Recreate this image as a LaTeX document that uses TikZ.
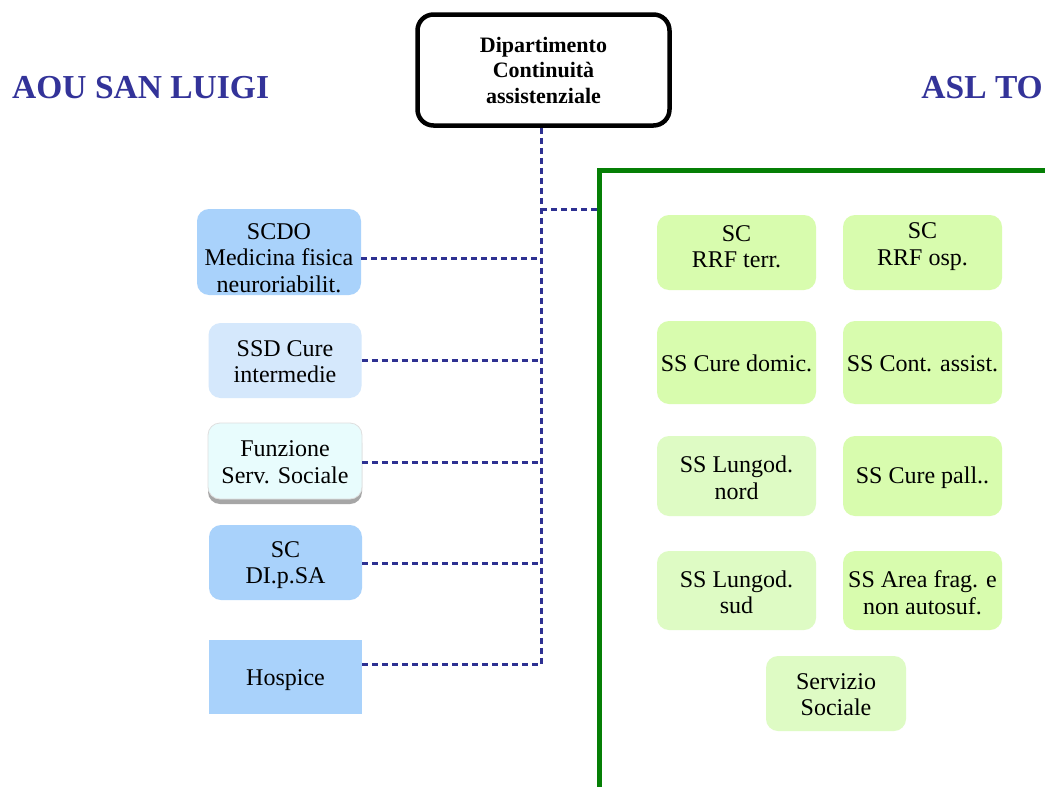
\documentclass[tikz,border=0pt]{standalone}
\usepackage{fontspec}
\setmainfont{Liberation Serif}
\usetikzlibrary{positioning}
\definecolor{hdblue}{HTML}{333399}
\definecolor{lnblue}{HTML}{2E3192}
\definecolor{frgreen}{HTML}{057F05}
\definecolor{lblue}{HTML}{A9D2FB}
\definecolor{pblue}{HTML}{D5E8FC}
\definecolor{cyanw}{HTML}{E8FCFD}
\definecolor{gA}{HTML}{D8FCAE}
\definecolor{gB}{HTML}{DEFBC4}
\tikzset{
  unit/.style={rounded corners=12pt, inner sep=0pt},
  squnit/.style={inner sep=0pt},
  txt/.style={align=center, inner sep=0pt, font=\fontsize{24}{26.5}\selectfont, text=black},
  link/.style={draw=lnblue, line width=3pt, dash pattern=on 6pt off 4pt},
  heading/.style={text=hdblue, font=\fontsize{33.5}{38}\selectfont\bfseries, inner sep=0pt},
}
\begin{document}
\begin{tikzpicture}[x=1pt,y=-1pt]
\useasboundingbox[fill=white] (0,0) rectangle (1045,787);
% headings
\node[heading, anchor=west] (aou) at (12,88) {AOU SAN LUIGI};
\node[heading, anchor=east] (asl) at (1043,88) {ASL TO};
% top box
\node[draw=black, line width=4.5pt, rounded corners=16pt, minimum width=252pt, minimum height=111pt, align=center, inner sep=0pt, font=\fontsize{22}{25.5}\selectfont\bfseries] (dip) at (543.5,70) {Dipartimento\\Continuità\\assistenziale};
% green frame
\draw[frgreen, line width=5pt] (599,790) -- (599,170) -- (1050,170);
% left units
\node[unit, fill=lblue, minimum width=164pt, minimum height=86pt] (scdo) at (279,252) {};
\node[txt] (scdoT) at ([yshift=-6pt]scdo.center) {SCDO\\Medicina fisica\\neuroriabilit.};
\node[unit, fill=pblue, minimum width=153pt, minimum height=75pt] (ssd) at (285,360.5) {};
\node[txt] (ssdT) at ([yshift=-1pt]ssd.center) {SSD Cure\\intermedie};
\fill[gray!70, rounded corners=12pt] (208,431) rectangle (362,504);
\node[unit, fill=cyanw, draw=gray!25, line width=0.8pt, minimum width=154pt, minimum height=76pt] (fun) at (285,461) {};
\node[txt] (funT) at ([yshift=-1pt]fun.center) {Funzione\\Serv. Sociale};
\node[unit, fill=lblue, minimum width=153pt, minimum height=75pt] (dips) at (285.5,562.5) {};
\node[txt] (dipsT) at ([yshift=-2.5pt]dips.center) {SC\\DI.p.SA};
\node[squnit, fill=lblue, minimum width=153pt, minimum height=74pt] (hos) at (285.5,677) {};
\node[txt] (hosT) at ([yshift=-3pt]hos.center) {Hospice};
% connectors
\coordinate (trunkTop) at (541,130);
\coordinate (trunkBot) at (541,664);
\coordinate (jA) at (541,209);
\draw[link] (dip.south -| trunkTop) -- (trunkBot);
\draw[link] (jA) -- (597,209);
\draw[link] (scdo.east |- 0,258) -- (541,258);
\draw[link] (ssd.east |- 0,360) -- (541,360);
\draw[link] (fun.east |- 0,462) -- (541,462);
\draw[link] (dips.east |- 0,563) -- (541,563);
\draw[link] (hos.east |- trunkBot) -- (trunkBot);
% right units
\node[unit, fill=gA, minimum width=159pt, minimum height=75pt] (rrft) at (736.5,252.5) {};
\node[txt] (rrftT) at ([yshift=6pt]rrft.center) {SC\\RRF terr.};
\node[unit, fill=gA, minimum width=159pt, minimum height=75pt] (rrfo) at (922.5,252.5) {};
\node[txt] (rrfoT) at ([yshift=6pt]rrfo.center) {SC\\RRF osp.};
\node[unit, fill=gA, minimum width=159pt, minimum height=83pt] (cdom) at (736.5,362.5) {};
\node[txt] (cdomT) at ([yshift=-1pt]cdom.center) {SS Cure domic.};
\node[unit, fill=gA, minimum width=159pt, minimum height=83pt] (cass) at (922.5,362.5) {};
\node[txt] (cassT) at ([yshift=-1pt]cass.center) {SS Cont. assist.};
\node[unit, fill=gB, minimum width=159pt, minimum height=80pt] (lnord) at (736.5,476) {};
\node[txt] (lnordT) at ([yshift=-2pt]lnord.center) {SS Lungod.\\nord};
\node[unit, fill=gA, minimum width=159pt, minimum height=80pt] (cpal) at (922.5,476) {};
\node[txt] (cpalT) at ([yshift=-1.5pt]cpal.center) {SS Cure pall..};
\node[unit, fill=gB, minimum width=159pt, minimum height=79pt] (lsud) at (736.5,590.5) {};
\node[txt] (lsudT) at ([yshift=-2pt]lsud.center) {SS Lungod.\\sud};
\node[unit, fill=gA, minimum width=159pt, minimum height=79pt] (afrag) at (922.5,590.5) {};
\node[txt] (afragT) at ([yshift=-2pt]afrag.center) {SS Area frag. e\\non autosuf.};
\node[unit, fill=gB, minimum width=140pt, minimum height=75pt] (ssoc) at (836,693.5) {};
\node[txt] (ssocT) at ([yshift=-1pt]ssoc.center) {Servizio\\Sociale};
\end{tikzpicture}
\end{document}
